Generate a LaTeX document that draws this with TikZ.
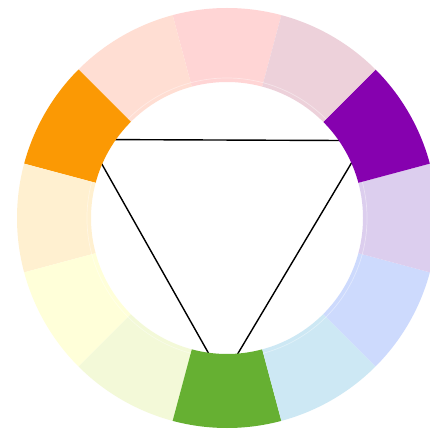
\documentclass[tikz,border=0pt]{standalone}
\usepackage{xcolor}
\usepackage{tikz}
\definecolor{cwred}{HTML}{FFD5D5}
\definecolor{cwredorange}{HTML}{FFDED3}
\definecolor{cworange}{HTML}{FB9904}
\definecolor{cwyelloworange}{HTML}{FFF0D0}
\definecolor{cwyellow}{HTML}{FFFFD9}
\definecolor{cwyellowgreen}{HTML}{F3F9D8}
\definecolor{cwgreen}{HTML}{66B032}
\definecolor{cwbluegreen}{HTML}{CDE8F4}
\definecolor{cwblue}{HTML}{CDDAFD}
\definecolor{cwblueviolet}{HTML}{DCCEEE}
\definecolor{cwviolet}{HTML}{8601AF}
\definecolor{cwredviolet}{HTML}{EDD1DA}
\tikzset{
  cwseg/.style={draw=none},
  cwtri/.style={line width=0.8pt, draw=black, line join=miter},
  cwseam/.style={line width=0.4pt, draw=white, opacity=0.4},
}

\begin{document}
\begin{tikzpicture}
\useasboundingbox[fill=white] (-4.540,-4.280) rectangle (4.040,4.360);
% triangle sits under the ring, so only its inside shows
\coordinate (vorange) at (-2.780,1.570);
\coordinate (vviolet) at (2.756,1.548);
\coordinate (vgreen) at (-0.082,-3.214);
\draw[cwtri] (vorange) -- (vviolet) -- (vgreen) -- cycle;
% ring
\fill[cwseg, fill=cwred] (75:2.720) arc[start angle=75, end angle=105, radius=2.720] -- (105:4.200) arc[start angle=105, end angle=75, radius=4.200] -- cycle;
\fill[cwseg, fill=cwredorange] (105:2.720) arc[start angle=105, end angle=135, radius=2.720] -- (135:4.200) arc[start angle=135, end angle=105, radius=4.200] -- cycle;
\fill[cwseg, fill=cworange] (135:2.720) arc[start angle=135, end angle=165, radius=2.720] -- (165:4.200) arc[start angle=165, end angle=135, radius=4.200] -- cycle;
\fill[cwseg, fill=cwyelloworange] (165:2.720) arc[start angle=165, end angle=195, radius=2.720] -- (195:4.200) arc[start angle=195, end angle=165, radius=4.200] -- cycle;
\fill[cwseg, fill=cwyellow] (195:2.720) arc[start angle=195, end angle=225, radius=2.720] -- (225:4.200) arc[start angle=225, end angle=195, radius=4.200] -- cycle;
\fill[cwseg, fill=cwyellowgreen] (225:2.720) arc[start angle=225, end angle=255, radius=2.720] -- (255:4.200) arc[start angle=255, end angle=225, radius=4.200] -- cycle;
\fill[cwseg, fill=cwgreen] (255:2.720) arc[start angle=255, end angle=285, radius=2.720] -- (285:4.200) arc[start angle=285, end angle=255, radius=4.200] -- cycle;
\fill[cwseg, fill=cwbluegreen] (285:2.720) arc[start angle=285, end angle=315, radius=2.720] -- (315:4.200) arc[start angle=315, end angle=285, radius=4.200] -- cycle;
\fill[cwseg, fill=cwblue] (315:2.720) arc[start angle=315, end angle=345, radius=2.720] -- (345:4.200) arc[start angle=345, end angle=315, radius=4.200] -- cycle;
\fill[cwseg, fill=cwblueviolet] (-15:2.720) arc[start angle=-15, end angle=15, radius=2.720] -- (15:4.200) arc[start angle=15, end angle=-15, radius=4.200] -- cycle;
\fill[cwseg, fill=cwviolet] (15:2.720) arc[start angle=15, end angle=45, radius=2.720] -- (45:4.200) arc[start angle=45, end angle=15, radius=4.200] -- cycle;
\fill[cwseg, fill=cwredviolet] (45:2.720) arc[start angle=45, end angle=75, radius=2.720] -- (75:4.200) arc[start angle=75, end angle=45, radius=4.200] -- cycle;
% faint inner seam on the pale tints
\draw[cwseam] (45:2.800) arc[start angle=45, end angle=135, radius=2.800];
\draw[cwseam] (165:2.800) arc[start angle=165, end angle=255, radius=2.800];
\draw[cwseam] (285:2.800) arc[start angle=285, end angle=375, radius=2.800];
\end{tikzpicture}
\end{document}
